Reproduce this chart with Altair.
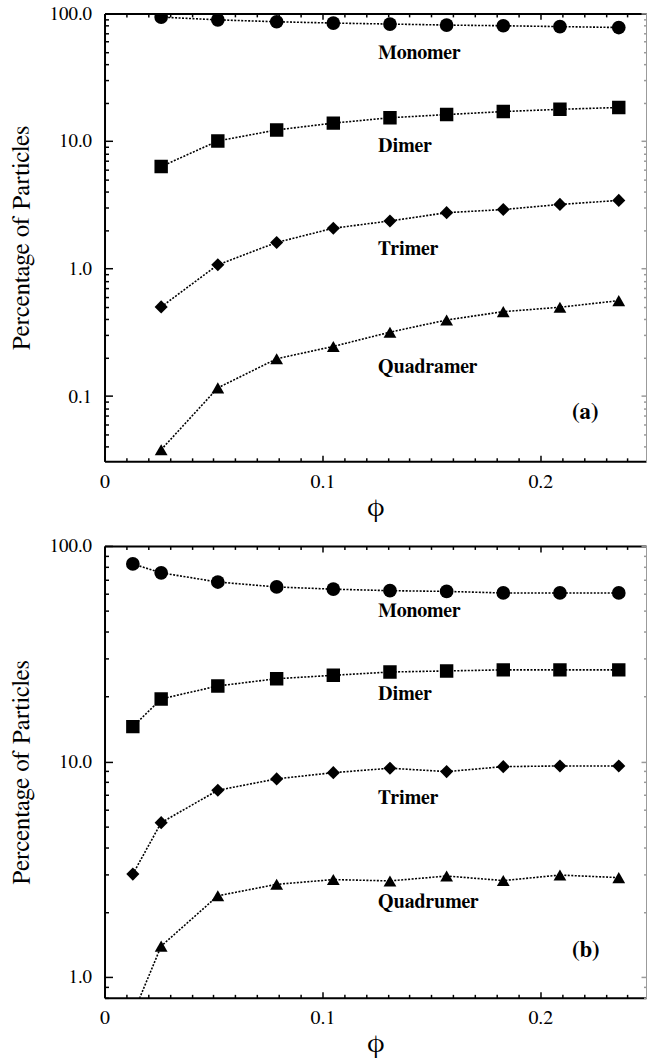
import altair as alt
import pandas as pd

# ---- data -------------------------------------------------------------
kinds = ["mono", "di", "tri", "quad"]

phi_a = [0.026, 0.052, 0.079, 0.105, 0.131, 0.157, 0.183, 0.209, 0.236]
mono_a = [93.5, 89.0, 86.0, 84.0, 82.5, 81.0, 80.0, 78.8, 77.5]
dimer_a = [6.3, 10.0, 12.2, 13.8, 15.2, 16.1, 17.0, 17.7, 18.3]
trimer_a = [0.50, 1.07, 1.60, 2.07, 2.36, 2.74, 2.90, 3.18, 3.42]
quad_a = [0.038, 0.116, 0.196, 0.245, 0.317, 0.395, 0.459, 0.497, 0.56]

phi_b = [0.013, 0.026, 0.052, 0.079, 0.105, 0.131, 0.157, 0.183, 0.209, 0.236]
mono_b = [82.5, 75.0, 68.0, 64.5, 63.0, 62.0, 61.5, 60.5, 60.5, 60.5]
dimer_b = [14.5, 19.5, 22.4, 24.2, 25.1, 26.0, 26.3, 26.6, 26.6, 26.6]
trimer_b = [3.0, 5.2, 7.35, 8.3, 8.87, 9.3, 8.97, 9.46, 9.53, 9.53]
quad_b = [0.67, 1.39, 2.38, 2.69, 2.83, 2.79, 2.94, 2.80, 2.97, 2.89]

# curve names and where they are written (phi, percentage)
names_a = ["Monomer", "Dimer", "Trimer", "Quadramer"]
names_b = ["Monomer", "Dimer", "Trimer", "Quadrumer"]
name_phi = [0.1255, 0.1255, 0.1255, 0.1255]
name_pct_a = [48.7, 9.06, 1.42, 0.169]
name_pct_b = [49.9, 20.5, 6.8, 2.23]
tag_phi = 0.2145
tag_pct_a = 0.075
tag_pct_b = 1.34

# axis tick positions
x_labels = [0, 0.1, 0.2]
x_ticks = [round(i * 0.01, 2) for i in range(25)]
decades_a = [0.1, 1, 10, 100]
decades_b = [1, 10, 100]
minor_a = [m * d for d in [0.01, 0.1, 1, 10] for m in range(2, 10) if m * d > 0.0308]
minor_b = [m * d for d in [0.1, 1, 10] for m in range(2, 10) if m * d >= 0.8]

# ---- styling ------------------------------------------------------------
FONT = "FreeSerif"
W = 544
X_DOMAIN = [0, 0.2485]
X_MAJOR = "abs(datum.value * 10 - round(datum.value * 10)) < 0.001"
Y_MAJOR = "abs(log(datum.value) / LN10 - round(log(datum.value) / LN10)) < 0.001"


def long_table(phi, cols):
    rows = []
    for kind, vals in zip(kinds, cols):
        for p, v in zip(phi, vals):
            rows.append({"phi": p, "pct": v, "kind": kind})
    return pd.DataFrame(rows)


def tick_axis(orient, offset, values, test, major, minor, domain=False, color="black"):
    return alt.Axis(
        orient=orient, offset=offset, values=values, labels=False, title="",
        tickSize={"condition": {"test": test, "value": major}, "value": minor},
        tickColor=color, tickWidth=1.5, domain=domain, domainColor=color,
        domainWidth=2 if color == "black" else 1, grid=False,
    )


def panel(df, names, name_pct, tag, tag_pct, y_domain, decades, minor, H):
    xs = alt.Scale(domain=X_DOMAIN, nice=False, zero=False)
    ys = alt.Scale(type="log", domain=y_domain, nice=False)
    yticks = sorted(decades + minor)

    base = alt.Chart(df)

    lines = base.mark_line(
        color="black", strokeWidth=1.6, strokeDash=[2, 1.5], clip=True
    ).encode(
        x=alt.X("phi:Q", scale=xs, axis=alt.Axis(
            orient="bottom", values=x_labels, format="~g", tickSize=0,
            labelPadding=10, labelFont=FONT, labelFontSize=20, labelColor="black",
            labelFlush=False, domainColor="black", domainWidth=2, grid=False,
            title="ϕ", titleFont=FONT, titleFontSize=28, titleFontWeight="normal",
            titleColor="black", titlePadding=2)),
        y=alt.Y("pct:Q", scale=ys, axis=alt.Axis(
            orient="left", values=decades, format=".1f", tickSize=0,
            labelPadding=13, labelFont=FONT, labelFontSize=19, labelColor="black",
            domainColor="black", domainWidth=2, grid=False,
            title="Percentage of Particles", titleFont=FONT, titleFontSize=25,
            titleFontWeight="normal", titleColor="black", titlePadding=16)),
        detail="kind:N",
    )

    points = base.mark_point(filled=True, color="black", opacity=1, clip=True).encode(
        x=alt.X("phi:Q", scale=xs,
                axis=tick_axis("top", -H, x_ticks, X_MAJOR, 6, 3.5)),
        y=alt.Y("pct:Q", scale=ys,
                axis=tick_axis("right", -W, yticks, Y_MAJOR, 8, 4)),
        shape=alt.Shape("kind:N", legend=None, scale=alt.Scale(
            domain=kinds, range=["circle", "square", "diamond", "triangle-up"])),
        size=alt.Size("kind:N", legend=None, scale=alt.Scale(
            domain=kinds, range=[190, 165, 250, 240])),
    )

    lab = pd.DataFrame({"phi": name_phi, "pct": name_pct, "name": names})
    words = alt.Chart(lab).mark_text(
        font=FONT, fontSize=20, fontWeight="bold", align="left", baseline="middle",
        color="black",
    ).encode(
        x=alt.X("phi:Q", scale=xs,
                axis=tick_axis("bottom", -H, x_ticks, X_MAJOR, 6, 3.5, domain=True)),
        y=alt.Y("pct:Q", scale=ys,
                axis=tick_axis("left", -W, yticks, Y_MAJOR, 5, 2.5, domain=True,
                               color="#9a9a9a")),
        text="name:N",
    )

    tag_df = pd.DataFrame({"phi": [tag_phi], "pct": [tag_pct], "name": [tag]})
    tag_mark = alt.Chart(tag_df).mark_text(
        font=FONT, fontSize=23, fontWeight="bold", align="left", baseline="middle",
        color="black",
    ).encode(
        x=alt.X("phi:Q", scale=xs, axis=None),
        y=alt.Y("pct:Q", scale=ys, axis=None),
        text="name:N",
    )

    return (
        alt.layer(lines, points, words, tag_mark)
        .resolve_axis(x="independent", y="independent")
        .properties(width=W, height=H)
    )


top = panel(long_table(phi_a, [mono_a, dimer_a, trimer_a, quad_a]), names_a, name_pct_a,
            "(a)", tag_pct_a, [0.0308, 100], decades_a, minor_a, 450)
bottom = panel(long_table(phi_b, [mono_b, dimer_b, trimer_b, quad_b]), names_b, name_pct_b,
               "(b)", tag_pct_b, [0.8, 100], decades_b, minor_b, 454)

chart = (
    alt.vconcat(top, bottom, spacing=85, bounds="flush")
    .properties(padding={"left": 8, "top": 2, "right": 0, "bottom": 0}, background="white")
    .configure_view(stroke=None)
)

chart.save("out.html", embed_options={"renderer": "svg", "actions": False})
